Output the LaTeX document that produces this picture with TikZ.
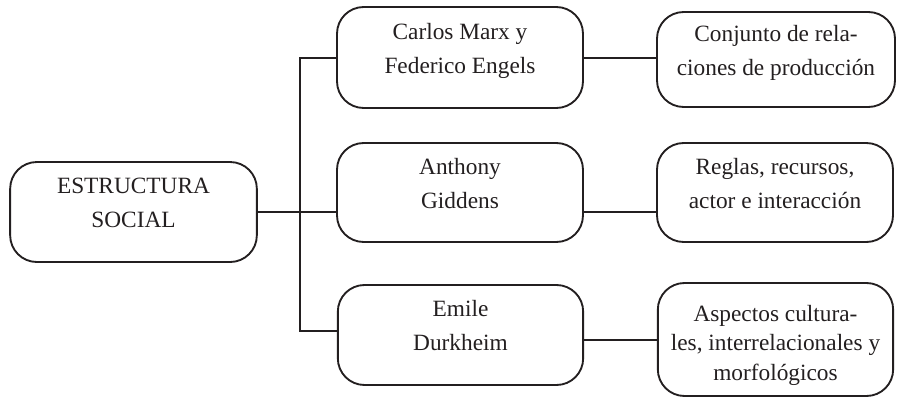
\documentclass[tikz,border=0pt]{standalone}
\usepackage{fontspec}
\setmainfont{Liberation Serif}
\usetikzlibrary{positioning,calc}
\definecolor{ink}{RGB}{35,31,32}

\begin{document}
\begin{tikzpicture}[x=0.75pt, y=-0.75pt,
    box/.style={draw=ink, line width=1.4pt, rounded corners=20pt, align=center,
        text=ink, font=\fontsize{17.5}{25.5}\selectfont,
        text height=23.4pt, text depth=0pt, inner sep=0pt},
    link/.style={draw=ink, line width=1.5pt}]
    \useasboundingbox (0,0) rectangle (897,397);

    % Main concept
    \node[box, minimum width=185pt, minimum height=75pt] (soc) at (133.5,212) {ESTRUCTURA\\SOCIAL};

    % Authors
    \node[box, minimum width=184.5pt, minimum height=75.75pt] (marx) at (460,57.5) {Carlos Marx y\\Federico Engels};
    \node[box, minimum width=184.5pt, minimum height=74.25pt] (giddens) at (460,192.5) {Anthony\\Giddens};
    \node[box, minimum width=184pt, minimum height=75pt] (durkheim) at (460.5,335) {Emile\\Durkheim};

    % Definitions
    \node[box, minimum width=178.5pt, minimum height=71.25pt] (relaciones) at (776,59.5) {Conjunto de rela-\\ciones de producción};
    \node[box, minimum width=177pt, minimum height=74.25pt] (reglas) at (775,192.5) {Reglas, recursos,\\actor e interacción};
    \node[box, minimum width=176.5pt, minimum height=84.75pt,
        font=\fontsize{17.5}{22}\selectfont, text height=60.75pt] (aspectos) at (775.5,339.5) {Aspectos cultura-\\les, interrelacionales y\\morfológicos};

    % Trunk
    \coordinate (trunktop) at (300,58);
    \coordinate (trunkbot) at (300,331);
    \draw[link] (marx.west |- trunktop) -- (trunktop) -- (trunkbot) -- (durkheim.west |- trunkbot);
    \draw[link] (soc.east) -- (soc.east -| giddens.west);

    % Links to definitions
    \draw[link] (marx.east) -- (marx.east -| relaciones.west);
    \draw[link] (giddens.east |- soc.east) -- (reglas.west |- soc.east);
    \draw[link] (aspectos.west -| durkheim.east) -- (aspectos.west);
\end{tikzpicture}
\end{document}
